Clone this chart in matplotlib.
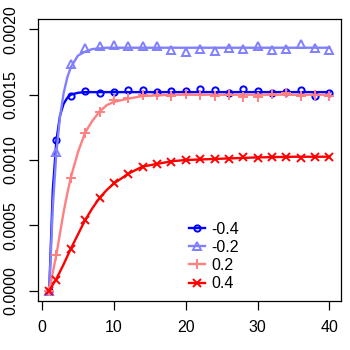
import numpy as np
import matplotlib
matplotlib.use("Agg")
import matplotlib.pyplot as plt

plt.rcParams["font.family"] = ["Liberation Sans", "DejaVu Sans"]

# observed points (markers)
x_pts = [1, 2, 4, 6, 8, 10, 12, 14, 16, 18, 20, 22, 24, 26, 28, 30, 32, 34, 36, 38, 40]
pts_m04 = [0.0, 0.001150, 0.001490, 0.001525, 0.001512, 0.001519, 0.001534, 0.001534,
           0.001520, 0.001530, 0.001530, 0.001545, 0.001534, 0.001514, 0.001545, 0.001527,
           0.001512, 0.001520, 0.001534, 0.001490, 0.001514]
pts_m02 = [0.0, 0.001063, 0.001738, 0.001860, 0.001873, 0.001878, 0.001870, 0.001870,
           0.001875, 0.001840, 0.001827, 0.001853, 0.001834, 0.001860, 0.001853, 0.001873,
           0.001845, 0.001850, 0.001890, 0.001860, 0.001840]
pts_p02 = [0.0, 0.000275, 0.000865, 0.001210, 0.001369, 0.001458, 0.001476, 0.001496,
           0.001496, 0.001490, 0.001504, 0.001496, 0.001490, 0.001496, 0.001483, 0.001483,
           0.001504, 0.001514, 0.001490, 0.001496, 0.001490]
pts_p04 = [0.0, 0.000084, 0.000318, 0.000542, 0.000710, 0.000822, 0.000893, 0.000949,
           0.000970, 0.000987, 0.001000, 0.001010, 0.001010, 0.001010, 0.001020, 0.001018,
           0.001025, 0.001025, 0.001018, 0.001025, 0.001025]

# fitted curves (lines)
x_line = [1, 1.5, 2, 2.5, 3, 3.5, 4, 5, 6, 7, 8, 9, 10, 12, 14, 16, 18, 20, 25, 30, 35, 40]
line_m04 = [0.0, 0.00077, 0.00115, 0.00134, 0.00143, 0.001475, 0.0015, 0.001515, 0.00152,
            0.00152, 0.00152, 0.00152, 0.00152, 0.00152, 0.00152, 0.00152, 0.00152, 0.00152,
            0.00152, 0.00152, 0.00152, 0.00152]
line_m02 = [0.0, 0.00064, 0.00106, 0.00133, 0.00151, 0.00163, 0.00171, 0.0018, 0.00183,
            0.00185, 0.001855, 0.00186, 0.00186, 0.00186, 0.00186, 0.00186, 0.00186, 0.00186,
            0.00186, 0.00186, 0.00186, 0.00186]
line_p02 = [0.0, 0.00014, 0.000275, 0.00044, 0.0006, 0.00074, 0.000865, 0.00106, 0.00121,
            0.0013, 0.00137, 0.00142, 0.001445, 0.00147, 0.00149, 0.001495, 0.0015, 0.0015,
            0.0015, 0.0015, 0.0015, 0.0015]
line_p04 = [0.0, 0.000045, 0.00009, 0.000145, 0.0002, 0.00026, 0.00032, 0.00043, 0.00054,
            0.00063, 0.00071, 0.00077, 0.00082, 0.000895, 0.00095, 0.00097, 0.00099, 0.001,
            0.00101, 0.00102, 0.001025, 0.001025]

labels = ["-0.4", "-0.2", "0.2", "0.4"]
colors = ["#0000FF", "#8080FF", "#FF8080", "#FF0000"]
markers = ["o", "^", "+", "x"]
msizes = [4.5, 5.5, 6.5, 5.5]

fig = plt.figure(figsize=(3.5, 3.5), dpi=100)
ax = fig.add_axes([0.1086, 0.14, 0.8648, 0.8057])

series = [(pts_m04, line_m04), (pts_m02, line_m02), (pts_p02, line_p02), (pts_p04, line_p04)]
handles = []
for (pts, ln), lab, c, m, ms in zip(series, labels, colors, markers, msizes):
    ax.plot(x_line, ln, color=c, lw=1.7)
    ax.plot(x_pts, pts, ls="none", marker=m, ms=ms, mfc="none", mec=c, mew=1.4)
    h, = ax.plot([], [], color=c, lw=1.7, marker=m, ms=ms, mfc="none", mec=c, mew=1.4)
    handles.append(h)

ax.set_xlim(-0.56, 41.56)
ax.set_ylim(-0.00008, 0.00208)
ax.set_xticks([0, 10, 20, 30, 40])
ax.set_yticks([0, 0.0005, 0.001, 0.0015, 0.002])
ax.set_yticklabels(["0.0000", "0.0005", "0.0010", "0.0015", "0.0020"],
                   rotation=90, va="center")
ax.tick_params(length=6.8, width=0.9, labelsize=11.5, pad=7, direction="out")
for s in ax.spines.values():
    s.set_linewidth(0.9)

ax.legend(handles, labels, loc="upper left", bbox_to_anchor=(0.462, 0.321),
          frameon=False, fontsize=11.5, handlelength=1.0, handletextpad=0.4,
          labelspacing=0.2, numpoints=1, borderpad=0.2)

fig.savefig("out.png", dpi=100)
